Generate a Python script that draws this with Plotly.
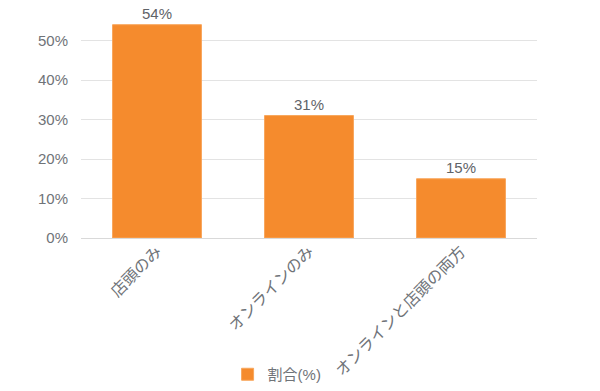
import plotly.graph_objects as go

categories = ["店頭のみ", "オンラインのみ", "オンラインと店頭の両方"]
values = [54, 31, 15]
labels = ["54%", "31%", "15%"]
series_name = "割合(%)"
y_ticks = [0, 10, 20, 30, 40, 50, 60]
y_tick_text = ["0%", "10%", "20%", "30%", "40%", "50%", ""]

font_family = "Liberation Sans, Noto Sans CJK JP, sans-serif"
txt_color = "#6f7378"

fig = go.Figure(go.Bar(
    x=categories, y=values, name=series_name,
    marker=dict(color="#F58B2D", line=dict(color="#F8A65C", width=1)),
    text=labels, textposition="outside", cliponaxis=False,
    textfont=dict(color="#5f6368", size=15, family=font_family),
    showlegend=True,
))

fig.update_layout(
    width=600, height=391,
    margin=dict(l=81, r=63, t=1, b=152),
    paper_bgcolor="white", plot_bgcolor="white",
    bargap=0.415,
    font=dict(family=font_family, color=txt_color, size=15),
    xaxis=dict(tickangle=-45, tickfont=dict(size=16, color=txt_color),
               showline=False, showgrid=False, ticks=""),
    yaxis=dict(range=[0, 60], tickvals=y_ticks, ticktext=y_tick_text,
               showgrid=True, gridcolor="#e3e3e3", gridwidth=1,
               zeroline=True, zerolinecolor="#d9d9d9", zerolinewidth=1,
               tickfont=dict(size=15, color=txt_color), ticks="",
               ticklabelstandoff=12),
    legend=dict(orientation="h", x=0.43, xanchor="center", y=-0.573, yanchor="middle",
                font=dict(size=15, color=txt_color), itemwidth=30),
)

fig.write_html("out.html")
